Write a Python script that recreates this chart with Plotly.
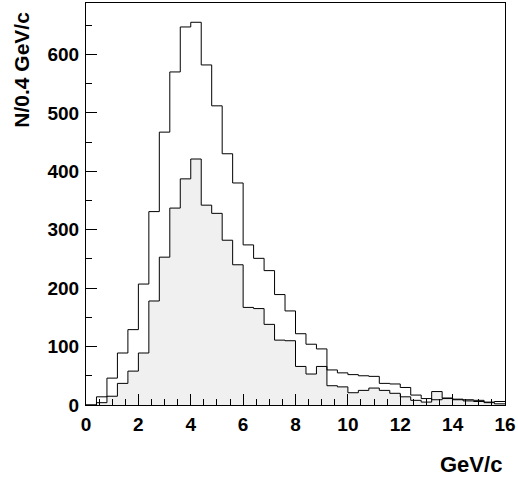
import plotly.graph_objects as go

# bin edges: 0 .. 16 GeV/c in 0.4 GeV/c steps (40 bins)
bin_width = 0.4
n_bins = 40
bin_lo = [round(i * bin_width, 1) for i in range(n_bins)]

# all candidates (open histogram)
all_counts = [0, 14, 46, 89, 129, 207, 331, 467, 570, 647,
              655, 582, 512, 430, 380, 274, 251, 230, 189, 161,
              122, 104, 96, 60, 55, 52, 50, 49, 37, 36,
              30, 17, 11, 9, 11, 10, 9, 8, 5, 6]

# selected subset (filled histogram)
sel_counts = [0, 4, 15, 37, 58, 89, 178, 253, 337, 387,
              421, 342, 328, 282, 240, 167, 165, 138, 111, 110,
              66, 53, 66, 33, 31, 21, 25, 29, 25, 20,
              14, 8, 5, 23, 12, 9, 7, 6, 4, 2]

x_ticks = [0, 2, 4, 6, 8, 10, 12, 14, 16]
y_ticks = [0, 100, 200, 300, 400, 500, 600]

FONT = "Liberation Sans, Arial, Helvetica, sans-serif"


def step_xy(vals):
    xs = bin_lo + [round(n_bins * bin_width, 1)]
    ys = vals + [vals[-1]]
    return xs, ys


fig = go.Figure()

xs, ys = step_xy(sel_counts)
fig.add_trace(go.Scatter(x=xs, y=ys, mode="lines", line_shape="hv",
                         line=dict(color="black", width=1),
                         fill="tozeroy", fillcolor="#f0f0f0", showlegend=False))

xs, ys = step_xy(all_counts)
fig.add_trace(go.Scatter(x=xs, y=ys, mode="lines", line_shape="hv",
                         line=dict(color="black", width=1), showlegend=False))

axis_common = dict(showgrid=False, zeroline=False, showline=True, linecolor="black",
                   linewidth=1, mirror=True, ticks="inside", tickcolor="black",
                   tickwidth=1, ticklen=11,
                   tickfont=dict(family=FONT, size=19, color="black", weight="bold"))

fig.update_xaxes(range=[0, 16], tickvals=x_ticks, ticklabelstandoff=2,
                 minor=dict(dtick=0.5, ticks="inside", ticklen=6, tickcolor="black"),
                 **axis_common)
fig.update_yaxes(range=[0, 688], tickvals=y_ticks, ticklabelstandoff=2,
                 minor=dict(dtick=50, ticks="inside", ticklen=6, tickcolor="black"),
                 **axis_common)

fig.add_annotation(text="N/0.4 GeV/c", xref="paper", yref="paper", x=-0.153, y=0.983,
                   xanchor="center", yanchor="top", textangle=-90, showarrow=False,
                   font=dict(family=FONT, size=21, color="black", weight="bold"))
fig.add_annotation(text="GeV/c", xref="paper", yref="paper", x=0.998, y=-0.147,
                   xanchor="right", yanchor="middle", showarrow=False,
                   font=dict(family=FONT, size=22, color="black", weight="bold"))

fig.update_layout(width=518, height=479, paper_bgcolor="white", plot_bgcolor="white",
                  margin=dict(l=86, r=13, t=3, b=74))

# drop the default page margin so the 518x479 figure fills the window
fig.write_html("out.html", config={"displayModeBar": False},
               post_script="document.body.style.margin='0';")
